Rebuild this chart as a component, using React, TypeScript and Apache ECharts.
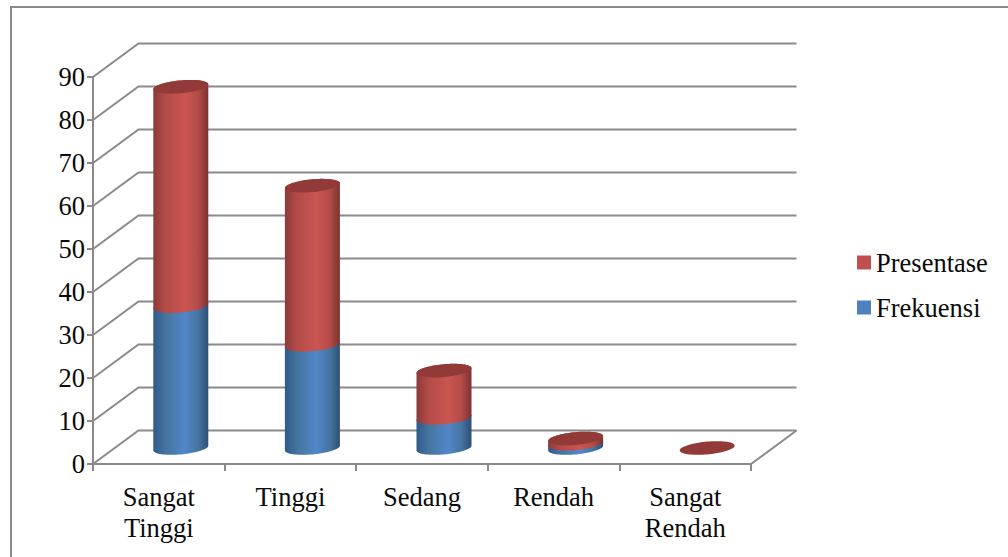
import React, { useEffect, useRef } from "react";
import * as echarts from "echarts";

const categories = ["Sangat\nTinggi", "Tinggi", "Sedang", "Rendah", "Sangat\nRendah"];
const frekuensi = [33, 24, 7, 1, 0];
const presentase = [51, 37, 11, 1.2, 0];
const gridTicks = [0, 10, 20, 30, 40, 50, 60, 70, 80, 90];

const FONT = "'Liberation Serif', 'Times New Roman', serif";
const LINE = "#8a8a8a";
const INK = "#0a0a0a";

// Oblique depth of the 3D box, and where the cylinders stand inside it.
const DEPTH_X = 45.5;
const DEPTH_Y = 33.5;
const MID_X = 22;
const MID_Y = 16;
const RX = 27.5;
const RY = 6.4;
const TILT = 2.4;

const sideGradient = (edgeL: string, mid: string, bright: string, edgeR: string) =>
  new echarts.graphic.LinearGradient(0, 0, 1, 0, [
    { offset: 0, color: edgeL },
    { offset: 0.22, color: mid },
    { offset: 0.58, color: bright },
    { offset: 0.82, color: mid },
    { offset: 1, color: edgeR },
  ]);

const RED_SIDE = () => sideGradient("#8b3b39", "#b34b48", "#cb5551", "#7c3331");
const BLUE_SIDE = () => sideGradient("#2f5a8c", "#45749f", "#5287c9", "#2d4f78");
const RED_CAP = "#923a38";

// Point on a cylinder's sheared elliptical rim, t measured in radians.
const rim = (cx: number, cy: number, t: number): number[] => [
  cx + RX * Math.cos(t),
  cy + RY * Math.sin(t) - TILT * Math.cos(t),
];

const arcPoints = (cx: number, cy: number, from: number, to: number, n = 40) => {
  const pts: number[][] = [];
  for (let i = 0; i <= n; i++) pts.push(rim(cx, cy, from + ((to - from) * i) / n));
  return pts;
};

// Renders one stacked cylinder segment; each datum is [category, start, end].
const cylinderSegment = (fill: () => any, withCap: (i: number) => boolean) => (params: any, api: any) => {
  const i = api.value(0);
  const lower = api.coord([i, api.value(1)]);
  const upper = api.coord([i, api.value(2)]);
  const cx = lower[0] + MID_X;
  const yLow = lower[1] - MID_Y;
  const yUp = upper[1] - MID_Y;
  const children: any[] = [];
  if (yLow - yUp > 0.01) {
    const body = [...arcPoints(cx, yLow, 0, Math.PI), ...arcPoints(cx, yUp, Math.PI, 2 * Math.PI)];
    children.push({ type: "polygon", shape: { points: body }, style: { fill: fill() } });
  }
  if (withCap(params.dataIndex)) {
    children.push({
      type: "polygon",
      shape: { points: arcPoints(cx, yUp, 0, 2 * Math.PI, 80) },
      style: { fill: RED_CAP },
    });
  }
  return { type: "group", children };
};

// Back wall line plus its oblique run down to the value axis, for one tick.
const wallLine = (params: any, api: any) => {
  const box = params.coordSys;
  const y = api.coord([0, api.value(0)])[1];
  return {
    type: "polyline",
    shape: {
      points: [
        [box.x, y],
        [box.x + DEPTH_X, y - DEPTH_Y],
        [box.x + box.width + DEPTH_X, y - DEPTH_Y],
      ],
    },
    style: { stroke: LINE, lineWidth: 2, fill: "none" },
  };
};

// Right edge of the floor.
const floorEdge = (params: any, api: any) => {
  const box = params.coordSys;
  const y = api.coord([0, 0])[1];
  const x = box.x + box.width;
  return {
    type: "line",
    shape: { x1: x, y1: y, x2: x + DEPTH_X, y2: y - DEPTH_Y },
    style: { stroke: LINE, lineWidth: 2 },
  };
};

export default function App() {
  const ref = useRef<HTMLDivElement>(null);

  useEffect(() => {
    const chart = echarts.init(ref.current!, undefined, { renderer: "svg" });
    chart.setOption({
      animation: false,
      backgroundColor: "#ffffff",
      textStyle: { fontFamily: FONT },
      graphic: [
        {
          type: "polyline",
          shape: { points: [[11, 557], [11, 7], [1008, 7]] },
          style: { stroke: LINE, lineWidth: 2, fill: "none" },
          silent: true,
        },
      ],
      grid: { left: 93, top: 77, width: 658, height: 387 },
      xAxis: {
        type: "category",
        data: categories,
        axisLine: { lineStyle: { color: LINE, width: 2 } },
        axisTick: { show: true, length: 7, alignWithLabel: false, lineStyle: { color: LINE, width: 2 } },
        axisLabel: { color: INK, fontSize: 26.5, fontFamily: FONT, lineHeight: 31, margin: 17, interval: 0 },
        splitLine: { show: false },
      },
      yAxis: {
        type: "value",
        min: 0,
        max: 90,
        interval: 10,
        axisLine: { show: true, lineStyle: { color: LINE, width: 2 } },
        axisTick: { show: true, length: 6, lineStyle: { color: LINE, width: 2 } },
        axisLabel: { color: INK, fontSize: 26.5, fontFamily: FONT, margin: 8 },
        splitLine: { show: false },
      },
      legend: {
        data: ["Presentase", "Frekuensi"],
        orient: "vertical",
        left: 857,
        top: 249,
        icon: "rect",
        itemWidth: 14,
        itemHeight: 14,
        itemGap: 18,
        textStyle: { color: INK, fontSize: 26.5, fontFamily: FONT, padding: [0, 0, 0, 0] },
        selectedMode: false,
        padding: 0,
      },
      series: [
        {
          name: "wall",
          type: "custom",
          renderItem: wallLine,
          data: gridTicks.map((v) => [v]),
          encode: { y: 0 },
          silent: true,
          clip: false,
          z: 1,
        },
        {
          name: "floor",
          type: "custom",
          renderItem: floorEdge,
          data: [[0]],
          encode: { y: 0 },
          silent: true,
          clip: false,
          z: 1,
        },
        {
          name: "Frekuensi",
          type: "custom",
          renderItem: cylinderSegment(BLUE_SIDE, () => false),
          data: frekuensi.map((v, i) => [i, 0, v]),
          encode: { x: 0, y: [1, 2] },
          itemStyle: { color: "#4f81bd" },
          clip: false,
          z: 3,
        },
        {
          name: "Presentase",
          type: "custom",
          renderItem: cylinderSegment(RED_SIDE, () => true),
          data: presentase.map((v, i) => [i, frekuensi[i], frekuensi[i] + v]),
          encode: { x: 0, y: [1, 2] },
          itemStyle: { color: "#c0504d" },
          clip: false,
          z: 4,
        },
      ],
    });
    return () => chart.dispose();
  }, []);

  return <div ref={ref} style={{ position: "fixed", left: 0, top: 0, width: 1008, height: 557 }} />;
}
